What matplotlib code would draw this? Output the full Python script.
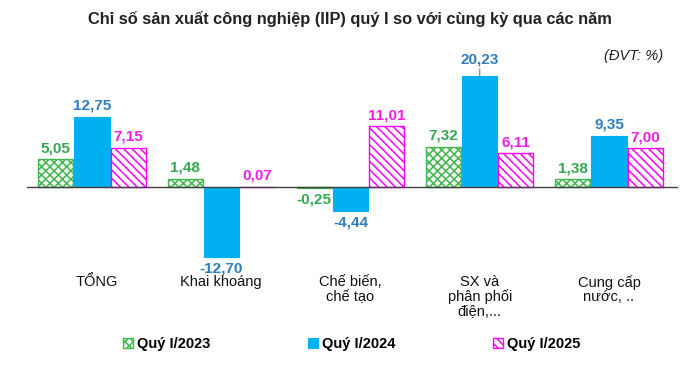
import matplotlib
matplotlib.use("Agg")
import matplotlib.pyplot as plt
import numpy as np
from matplotlib.patches import Patch
from matplotlib.transforms import blended_transform_factory

plt.rcParams['font.family'] = ['Liberation Sans', 'DejaVu Sans']
plt.rcParams['hatch.linewidth'] = 1.1

categories = ["TỔNG", "Khai khoáng", "Chế biến,\nchế tạo", "SX và\nphân phối\nđiện,...", "Cung cấp\nnước, .."]
series_names = ["Quý I/2023", "Quý I/2024", "Quý I/2025"]
v2023 = [5.05, 1.48, -0.25, 7.32, 1.38]
v2024 = [12.75, -12.70, -4.44, 20.23, 9.35]
v2025 = [7.15, 0.07, 11.01, 6.11, 7.00]
value_labels = [
    ["5,05", "1,48", "-0,25", "7,32", "1,38"],
    ["12,75", "-12,70", "-4,44", "20,23", "9,35"],
    ["7,15", "0,07", "11,01", "6,11", "7,00"],
]

green = "#45b553"
blue = "#00b0f0"
pink = "#ff00ff"
blue_txt = "#2e7dc0"
green_txt = "#33a852"
pink_txt = "#f020e0"

fig = plt.figure(figsize=(6.98, 3.67), dpi=100)
# axes: x 27..678 px, baseline at 187 px; ylim -20..25 -> 5.5 px/unit
ax = fig.add_axes([27/698, 1 - 297/367, (678-27)/698, (297-49.5)/367])
ax.set_ylim(-20, 25)

x = np.arange(len(categories))
w = 0.28
series = [v2023, v2024, v2025]
styles = [
    dict(facecolor="#f4faf0", edgecolor=green, hatch="xxxx", linewidth=1.0),
    dict(facecolor=blue, edgecolor=blue, linewidth=0.8),
    dict(facecolor="white", edgecolor=pink, hatch="\\\\\\\\", linewidth=1.0),
]
txtcols = [green_txt, blue_txt, pink_txt]
for i, (vals, st) in enumerate(zip(series, styles)):
    xs = x + (i - 1) * w
    ax.bar(xs, vals, width=w * 0.97, **st, zorder=2)
    for xi, v, lab in zip(xs, vals, value_labels[i]):
        if v >= 0:
            if v > 20:
                ax.annotate(lab, (xi, v), xytext=(0, 7), textcoords="offset points",
                            ha="center", va="bottom", fontsize=11, fontweight="bold",
                            color=txtcols[i],
                            arrowprops=dict(arrowstyle="-", color="#808080", lw=0.8,
                                            shrinkA=0, shrinkB=0))
            else:
                ax.annotate(lab, (xi, v), xytext=(0, 3), textcoords="offset points",
                            ha="center", va="bottom", fontsize=11, fontweight="bold",
                            color=txtcols[i])
        else:
            ax.annotate(lab, (xi, v), xytext=(0, -3), textcoords="offset points",
                        ha="center", va="top", fontsize=11, fontweight="bold",
                        color=txtcols[i])

ax.axhline(0, color="#404040", linewidth=1.0, zorder=3)
ax.set_xlim(-0.503, 4.534)
ax.axis("off")

tr = blended_transform_factory(ax.transData, fig.transFigure)
for xi, c in zip(x, categories):
    ax.text(xi + (0.04 if xi == 0 else 0.0), 1 - 275/367, c, transform=tr, ha="center", va="top",
            fontsize=10.5, color="#111111", linespacing=1.05)

fig.text(0.502, 1 - 19/367, "Chỉ số sản xuất công nghiệp (IIP) quý I so với cùng kỳ qua các năm",
         ha="center", va="center", fontsize=11.8, fontweight="bold", color="#222222")
fig.text(663/698, 1 - 56/367, "(ĐVT: %)", ha="right", va="center", fontsize=10.5,
         fontstyle="italic", color="#222222")

handles = [Patch(**styles[0]), Patch(**styles[1]), Patch(**styles[2])]
leg = fig.legend(handles, series_names, loc="center", bbox_to_anchor=(0.504, 1 - 344/367),
                 ncol=3, frameon=False, columnspacing=6.65, handlelength=0.7,
                 handleheight=0.7, handletextpad=0.3,
                 prop=dict(weight="bold", size=10.5))

fig.savefig("out.png", dpi=100)
